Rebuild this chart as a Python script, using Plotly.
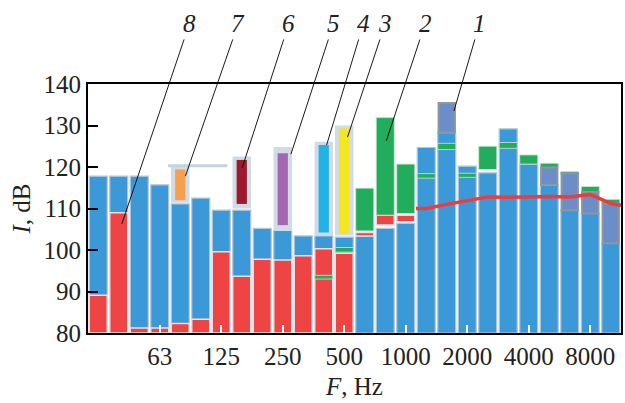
import plotly.graph_objects as go

# ---------------- data ----------------
bands = ["31.5", "40", "50", "63", "80", "100", "125", "160", "200", "250", "315", "400", "500",
         "630", "800", "1000", "1250", "1600", "2000", "2500", "3150", "4000", "5000", "6300",
         "8000", "10000"]
band_idx = list(range(len(bands)))

# total level (blue bars, from 80 dB)
blue_top = [117.8, 117.8, 117.8, 115.7, 111.1, 112.5, 109.6, 109.6, 105.2, 104.7, 103.4, 103.4,
            103.1, 103.4, 105.2, 106.4, 124.7, 128.3, 120.2, 118.6, 129.2, 120.7, 115.7, 109.6,
            108.8, 101.6]

# red component (base, top); None where absent
red_base = [80, 80, 80, 80, 80, 80, 80, 80, 80, 80, 80, 80, 80, 103.4, 106.0, 106.8,
            None, None, None, None, None, None, None, None, None, None]
red_top = [89.1, 109.0, 81.2, 81.2, 82.3, 83.3, 99.6, 93.7, 97.8, 97.6, 98.6, 100.3, 99.2,
           104.2, 108.4, 108.4, None, None, None, None, None, None, None, None, None, None]

# red curve (high-frequency part)
red_line_idx = [16, 17, 18, 19, 20, 21, 22, 23, 24, 25]
red_line_val = [110.0, 111.0, 111.8, 112.8, 112.7, 112.9, 112.9, 112.8, 113.4, 111.2]

# green ranges
green_idx = [11, 12, 13, 14, 15, 16, 17, 18, 19, 20, 21, 22, 23, 24, 25]
green_base = [93.0, 99.5, 104.6, 108.4, 108.8, 117.3, 124.2, 117.5, 119.4, 124.5, 120.7, 119.7,
              118.1, 113.8, 111.1]
green_top = [93.9, 100.6, 114.9, 131.9, 120.7, 118.4, 125.7, 118.5, 125.0, 125.9, 122.9, 120.9,
             118.9, 115.3, 112.2]

# grey-blue ranges
slate_idx = [17, 22, 23, 24, 25]
slate_base = [128.3, 115.7, 109.6, 108.8, 101.6]
slate_top = [135.4, 119.9, 118.5, 114.0, 111.2]

# single-source ranges (orange, dark red, purple, cyan, yellow)
src_idx = [4, 7, 9, 11, 12]
src_base = [112.0, 111.1, 106.0, 104.2, 104.0]
src_top = [119.4, 121.7, 123.3, 125.3, 129.3]
src_colors = ["#f6a04b", "#9c1a2c", "#a466b0", "#20b2e9", "#f4e61f"]
halo_base = [111.4, 110.0, 104.6, 103.4, 103.5]
halo_top = [120.2, 122.5, 124.8, 126.1, 130.0]

# reference level line near the orange range
ref_span = [3.4, 6.3]
ref_level = [120.3, 120.3]

# callouts: label, point (band index, dB), label position (band index)
callout_labels = ["8", "7", "6", "5", "4", "3", "2", "1"]
callout_x = [1.15, 4.25, 7.02, 9.4, 11.14, 12.16, 14.05, 17.35]
callout_y = [106.3, 117.8, 119.8, 123.1, 125.3, 127.2, 126.3, 133.5]
label_x = [4.45, 6.83, 9.3, 11.48, 12.94, 14.0, 15.95, 18.6]
label_y = 154.6

tick_pos = [3, 6, 9, 12, 15, 18, 21, 24]
tick_text = ["63", "125", "250", "500", "1000", "2000", "4000", "8000"]

# ---------------- figure ----------------
BLUE = "#3b99d8"
RED = "#ee4444"
GREEN = "#22ad5c"
SLATE = "#6b8dc8"
HALO = "#d0dbe5"
FONT = "Liberation Serif"

def rng(base, top):
    return [None if b is None else t - b for b, t in zip(base, top)]

fig = go.Figure()

fig.add_trace(go.Bar(x=band_idx, y=[t - 80 for t in blue_top], base=[80] * len(bands), width=0.88,
                     marker=dict(color=BLUE, line=dict(color="#b8c7d4", width=1.2))))
fig.add_trace(go.Bar(x=band_idx, y=rng(red_base, red_top), base=red_base, width=0.88,
                     marker=dict(color=RED, line=dict(color="#dde3ea", width=1.5))))
fig.add_trace(go.Bar(x=green_idx, y=rng(green_base, green_top), base=green_base, width=0.88,
                     marker=dict(color=GREEN, line=dict(color="#cfe3d6", width=0.8))))
fig.add_trace(go.Bar(x=slate_idx, y=rng(slate_base, slate_top), base=slate_base, width=0.8,
                     marker=dict(color=SLATE, line=dict(color="#8e979f", width=2))))
fig.add_trace(go.Bar(x=src_idx, y=rng(halo_base, halo_top), base=halo_base, width=0.9,
                     marker=dict(color=HALO, line=dict(width=0))))
fig.add_trace(go.Bar(x=src_idx, y=rng(src_base, src_top), base=src_base, width=0.5,
                     marker=dict(color=src_colors, line=dict(width=0))))
fig.add_trace(go.Scatter(x=ref_span, y=ref_level, mode="lines",
                         line=dict(color="#c4d3e0", width=3)))
fig.add_trace(go.Scatter(x=[red_line_idx[0] - 0.5] + red_line_idx + [red_line_idx[-1] + 0.5],
                         y=[red_line_val[0]] + red_line_val + [red_line_val[-1] - 0.4],
                         mode="lines", line=dict(color="#ee3b3b", width=3.5, shape="linear")))

for lab, hx, hy, lx in zip(callout_labels, callout_x, callout_y, label_x):
    fig.add_annotation(x=hx, y=hy, xref="x", yref="y", ax=lx, ay=label_y, axref="x", ayref="y",
                       text="<i>" + lab + "</i>", showarrow=True, arrowhead=0, arrowwidth=0.9,
                       arrowcolor="black", font=dict(family=FONT, size=25, color="#222"),
                       borderpad=2)

fig.update_layout(
    width=625, height=403,
    margin=dict(l=88, r=2, t=84, b=70),
    paper_bgcolor="white", plot_bgcolor="white",
    barmode="overlay", showlegend=False,
    font=dict(family=FONT, size=25, color="#222"),
)
fig.update_xaxes(range=[-0.5, 25.5], tickvals=tick_pos, ticktext=tick_text,
                 ticks="inside", ticklen=8, tickwidth=2, tickcolor="white",
                 showline=True, linecolor="black", linewidth=2, mirror=True,
                 showgrid=False, zeroline=False,
                 title=dict(text="<i>F</i>, Hz", font=dict(family=FONT, size=25), standoff=8))
fig.update_yaxes(range=[80, 140], dtick=10, ticks="inside", ticklen=10, tickwidth=1.5,
                 tickcolor="black", showline=True, linecolor="black", linewidth=2, mirror=True,
                 showgrid=False, zeroline=False,
                 title=dict(text="<i>I</i>, dB", font=dict(family=FONT, size=25), standoff=6))

fig.write_html("out.html")
